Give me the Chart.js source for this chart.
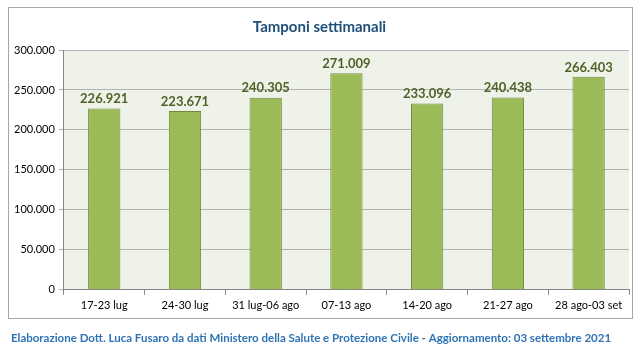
<!DOCTYPE html>
<html>
<head>
<meta charset="utf-8">
<script src="https://cdn.jsdelivr.net/npm/chart.js@4"></script>
<style>
  html, body { margin: 0; padding: 0; background: #fff; }
  #wrap { width: 644px; height: 352px; position: relative; }
</style>
</head>
<body>
<div id="wrap"><canvas id="chart" width="644" height="352"></canvas></div>
<script>
// Weekly swab counts
const weeks = ['17-23 lug', '24-30 lug', '31 lug-06 ago', '07-13 ago', '14-20 ago', '21-27 ago', '28 ago-03 set'];
const tamponi = [226921, 223671, 240305, 271009, 233096, 240438, 266403];
const chartTitle = 'Tamponi settimanali';
const footerText = 'Elaborazione Dott. Luca Fusaro da dati Ministero della Salute e Protezione Civile - Aggiornamento: 03 settembre 2021';

const FONT = 'Lato, "Open Sans", sans-serif';

// Italian thousands separator
function fmt(v) {
    return String(Math.round(v)).replace(/\B(?=(\d{3})+(?!\d))/g, '.');
}

// Background of plot area, frame and footer
const decor = {
    id: 'decor',
    beforeDraw(chart) {
        const { ctx, chartArea: a } = chart;
        ctx.save();
        ctx.fillStyle = '#eff2e9';
        ctx.fillRect(a.left, a.top, a.right - a.left, a.bottom - a.top);
        ctx.strokeStyle = '#a6a6a6';
        ctx.lineWidth = 1;
        ctx.strokeRect(8.5, 7.5, 624, 311);
        ctx.restore();
    },
    afterDraw(chart) {
        const { ctx } = chart;
        ctx.save();
        ctx.fillStyle = '#2e74b5';
        ctx.font = 'bold 11.5px ' + FONT;
        ctx.textAlign = 'center';
        ctx.textBaseline = 'middle';
        ctx.fillText(footerText, 311, 338);
        ctx.restore();
    }
};

// Values above each bar
const barLabels = {
    id: 'barLabels',
    afterDatasetsDraw(chart) {
        const { ctx } = chart;
        const meta = chart.getDatasetMeta(0);
        ctx.save();
        ctx.fillStyle = '#4f6228';
        ctx.font = 'bold 13px ' + FONT;
        ctx.textAlign = 'center';
        ctx.textBaseline = 'bottom';
        meta.data.forEach((bar, i) => {
            ctx.fillText(fmt(tamponi[i]), bar.x, bar.y - 3);
        });
        ctx.restore();
    }
};

new Chart(document.getElementById('chart'), {
    type: 'bar',
    data: {
        labels: weeks,
        datasets: [{
            data: tamponi,
            backgroundColor: '#9bbb59',
            borderColor: '#71893f',
            borderWidth: 1,
            barPercentage: 0.8,
            categoryPercentage: 0.5
        }]
    },
    options: {
        responsive: false,
        animation: false,
        layout: { padding: { left: 10, right: 15, top: 8, bottom: 36 } },
        plugins: {
            legend: { display: false },
            tooltip: { enabled: false },
            title: {
                display: true,
                text: chartTitle,
                color: '#1f4e79',
                font: { family: FONT, size: 15, weight: 'bold' },
                padding: { top: 10, bottom: 14 }
            }
        },
        scales: {
            x: {
                grid: { display: true, drawOnChartArea: false, offset: true, tickLength: 5, color: '#868686' },
                border: { color: '#868686' },
                ticks: { color: '#000', font: { family: FONT, size: 11 }, padding: 4, maxRotation: 0 }
            },
            y: {
                min: 0,
                max: 300000,
                grid: { color: '#b3b3b3', tickLength: 5, lineWidth: 1 },
                border: { color: '#868686' },
                ticks: {
                    stepSize: 50000,
                    color: '#000',
                    font: { family: FONT, size: 11 },
                    padding: 4,
                    callback: v => fmt(v)
                }
            }
        }
    },
    plugins: [decor, barLabels]
});
</script>
</body>
</html>
